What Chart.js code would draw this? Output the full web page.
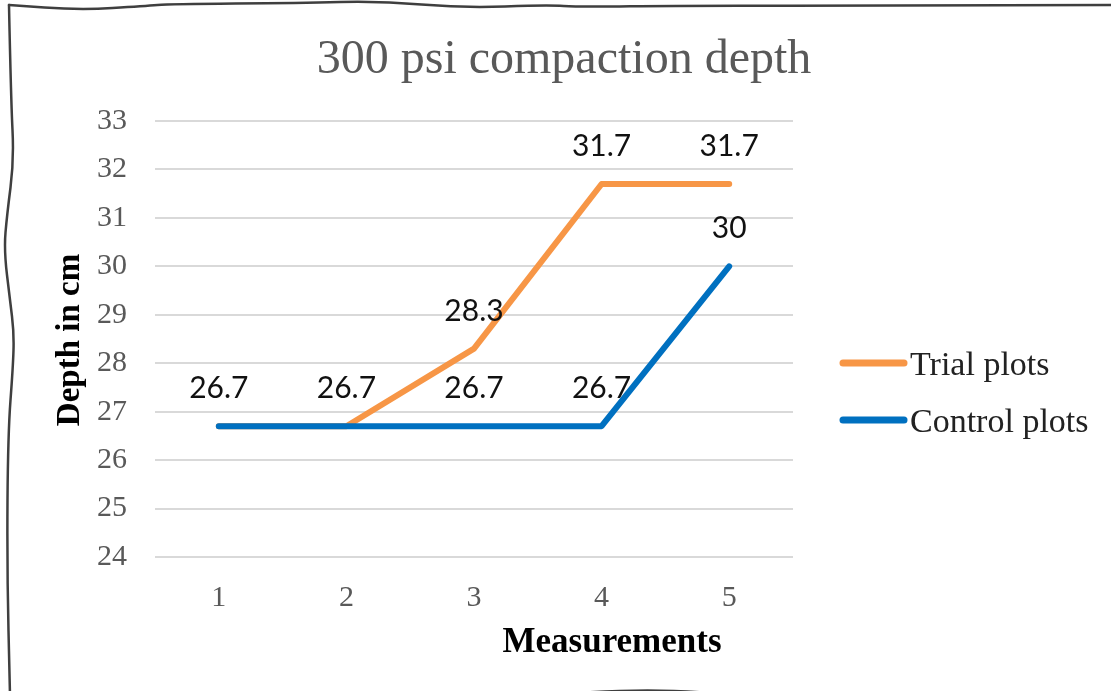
<!DOCTYPE html>
<html><head><meta charset="utf-8">
<script src="https://cdn.jsdelivr.net/npm/chart.js@4.4.1/dist/chart.umd.min.js"></script>
<style>html,body{margin:0;padding:0;background:#fff;overflow:hidden}</style>
</head><body>
<canvas id="c" width="1111" height="691"></canvas>
<script>
const categories = ['1', '2', '3', '4', '5'];
const trialPlots = [26.7, 26.7, 28.3, 31.7, 31.7];
const controlPlots = [26.7, 26.7, 26.7, 26.7, 30];
const seriesNames = ['Trial plots', 'Control plots'];
const yMin = 24, yMax = 33, yStep = 1;
const chartTitle = '300 psi compaction depth';
const xTitle = 'Measurements';
const yTitle = 'Depth in cm';

const SERIF = '"Liberation Serif", "DejaVu Serif", serif';
const SANS = 'Lato, "Liberation Sans", sans-serif';
const COLORS = ['#F79646', '#0070C0'];

function smoothPath(ctx, pts) {
  ctx.moveTo(pts[0][0], pts[0][1]);
  for (let i = 1; i < pts.length - 1; i++) {
    const mx = (pts[i][0] + pts[i + 1][0]) / 2, my = (pts[i][1] + pts[i + 1][1]) / 2;
    ctx.quadraticCurveTo(pts[i][0], pts[i][1], mx, my);
  }
  const l = pts[pts.length - 1];
  ctx.lineTo(l[0], l[1]);
}

const decor = {
  id: 'decor',
  beforeDraw(chart) {
    const ctx = chart.ctx;
    ctx.save();
    ctx.fillStyle = '#fff';
    ctx.fillRect(0, 0, chart.width, chart.height);
    ctx.restore();
  },
  afterDatasetsDraw(chart) {
    const ctx = chart.ctx;
    ctx.save();
    ctx.font = '30px ' + SANS;
    ctx.fillStyle = '#111';
    ctx.textAlign = 'center';
    ctx.textBaseline = 'alphabetic';
    const seen = new Set();
    chart.data.datasets.forEach((ds, i) => {
      const meta = chart.getDatasetMeta(i);
      meta.data.forEach((el, j) => {
        const txt = String(ds.data[j]);
        const key = Math.round(el.x) + '|' + Math.round(el.y) + '|' + txt;
        if (seen.has(key)) return;
        seen.add(key);
        ctx.fillText(txt, el.x, el.y - 28);
      });
    });
    ctx.restore();
  },
  afterDraw(chart) {
    const ctx = chart.ctx;
    const ca = chart.chartArea;
    ctx.save();
    // title
    ctx.fillStyle = '#595959';
    ctx.font = '48px ' + SERIF;
    ctx.textAlign = 'center';
    ctx.textBaseline = 'alphabetic';
    ctx.fillText(chartTitle, 564, 73);
    // x axis title
    ctx.fillStyle = '#000';
    ctx.font = 'bold 35px ' + SERIF;
    ctx.fillText(xTitle, 612, 652);
    // y axis title
    ctx.font = 'bold 33px ' + SERIF;
    ctx.save();
    ctx.translate(79, (ca.top + ca.bottom) / 2 + 1);
    ctx.rotate(-Math.PI / 2);
    ctx.fillText(yTitle, 0, 0);
    ctx.restore();
    // legend
    const legY = [363, 420];
    chart.data.datasets.forEach((ds, i) => {
      ctx.strokeStyle = ds.borderColor;
      ctx.lineWidth = 7;
      ctx.lineCap = 'round';
      ctx.beginPath();
      ctx.moveTo(843, legY[i]);
      ctx.lineTo(904, legY[i]);
      ctx.stroke();
      ctx.fillStyle = '#222';
      ctx.font = '34px ' + SERIF;
      ctx.textAlign = 'left';
      ctx.fillText(ds.label, 910, legY[i] + 11.5);
    });
    // sketchy frame
    ctx.strokeStyle = '#3f3f3f';
    ctx.lineWidth = 2.5;
    ctx.lineCap = 'round';
    ctx.lineJoin = 'round';
    ctx.beginPath();
    smoothPath(ctx, [[1115, 5], [900, 6], [680, 5.5], [580, 7], [547, 5], [463, 8], [380, 1], [300, 3], [170, 4], [145, 6], [80, 10], [9, 5]]);
    ctx.stroke();
    ctx.beginPath();
    smoothPath(ctx, [[9, 5], [11, 100], [14, 160], [7, 215], [4, 250], [10, 300], [14, 333], [13, 367], [8, 433], [7, 567], [10, 695]]);
    ctx.stroke();
    ctx.beginPath();
    smoothPath(ctx, [[10, 700], [120, 691], [200, 702], [300, 690], [450, 704], [655, 686], [800, 704], [920, 689], [1050, 704], [1115, 698]]);
    ctx.stroke();
    ctx.restore();
  }
};

new Chart(document.getElementById('c'), {
  type: 'line',
  data: {
    labels: categories,
    datasets: [
      { label: seriesNames[0], data: trialPlots, borderColor: COLORS[0], backgroundColor: COLORS[0],
        borderWidth: 6, pointRadius: 0, fill: false, tension: 0, order: 1,
        borderCapStyle: 'round', borderJoinStyle: 'round' },
      { label: seriesNames[1], data: controlPlots, borderColor: COLORS[1], backgroundColor: COLORS[1],
        borderWidth: 6, pointRadius: 0, fill: false, tension: 0, order: 0,
        borderCapStyle: 'round', borderJoinStyle: 'round' }
    ]
  },
  options: {
    responsive: false,
    animation: false,
    devicePixelRatio: 1,
    layout: { padding: { top: 121, right: 318, left: 0, bottom: 0 } },
    plugins: { legend: { display: false }, title: { display: false }, tooltip: { enabled: false } },
    scales: {
      x: {
        offset: true,
        grid: { display: false },
        border: { display: false },
        ticks: { font: { family: SERIF, size: 30 }, color: '#595959', padding: 15 },
        afterFit(s) { s.height = 134; }
      },
      y: {
        min: yMin, max: yMax,
        ticks: { stepSize: yStep, font: { family: SERIF, size: 30 }, color: '#595959', padding: 28 },
        grid: { color: '#d9d9d9', lineWidth: 2, drawTicks: false },
        border: { display: false },
        afterFit(s) { s.width = 155; }
      }
    }
  },
  plugins: [decor]
});
</script>
</body></html>
